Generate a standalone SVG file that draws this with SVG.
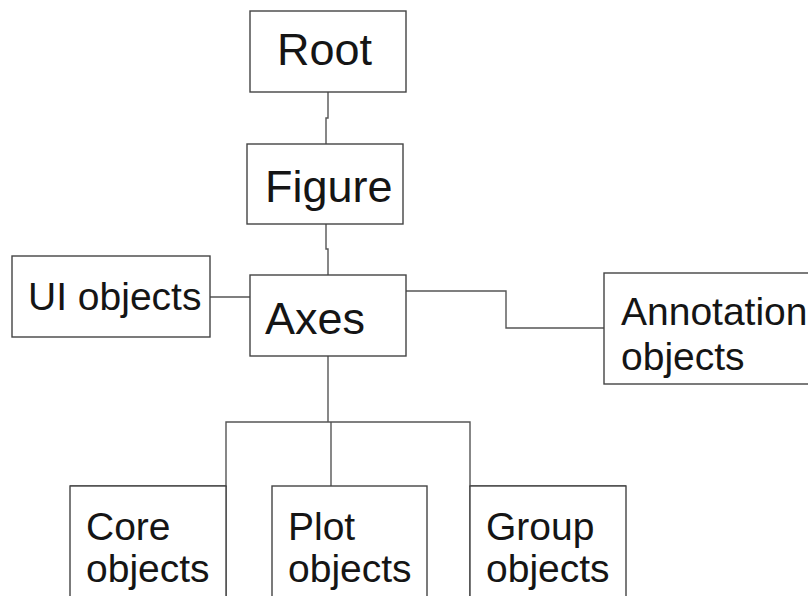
<svg xmlns="http://www.w3.org/2000/svg" width="808" height="596" viewBox="0 0 808 596">
<style>
.box{fill:#fff;stroke:#444;stroke-width:1.4}
.lbl{font-family:"Liberation Sans",Arial,sans-serif;fill:#151515}
.big{font-size:45px}
.sm{font-size:39px}
.con{fill:none;stroke:#555;stroke-width:1.4}
</style>
<rect x="0" y="0" width="808" height="596" fill="#fff"/>
<g id="connectors">
<path class="con" d="M328,92 V118 H326 V144"/>
<path class="con" d="M326,224 V249 H328 V275"/>
<path class="con" d="M210,297 H250"/>
<path class="con" d="M406,291 H506 V328 H604"/>
<path class="con" d="M328,356 V422"/>
<path class="con" d="M70,486 H226 V422 H470 V486 H626"/>
<path class="con" d="M226,486 V596"/>
<path class="con" d="M470,486 V596"/>
<path class="con" d="M331,422 V486"/>
</g>
<g id="root">
<rect class="box" x="250" y="11" width="156" height="81"/>
<text class="lbl big" x="277" y="65">Root</text>
</g>
<g id="figure">
<rect class="box" x="247" y="144" width="156" height="80"/>
<text class="lbl big" x="265" y="202">Figure</text>
</g>
<g id="ui-objects">
<rect class="box" x="12" y="256" width="198" height="81"/>
<text class="lbl sm" x="28" y="310">UI objects</text>
</g>
<g id="axes">
<rect class="box" x="250" y="275" width="156" height="81"/>
<text class="lbl big" x="265" y="334">Axes</text>
</g>
<g id="annotation-objects">
<rect class="box" x="604" y="273" width="220" height="111"/>
<text class="lbl sm" x="621" y="325">Annotation</text>
<text class="lbl sm" x="621" y="370">objects</text>
</g>
<g id="core-objects">
<rect class="box" x="70" y="486" width="156" height="130"/>
<text class="lbl sm" x="86" y="540">Core</text>
<text class="lbl sm" x="86" y="582">objects</text>
</g>
<g id="plot-objects">
<rect class="box" x="272" y="486" width="155" height="130"/>
<text class="lbl sm" x="288" y="540">Plot</text>
<text class="lbl sm" x="288" y="582">objects</text>
</g>
<g id="group-objects">
<rect class="box" x="470" y="486" width="156" height="130"/>
<text class="lbl sm" x="486" y="540">Group</text>
<text class="lbl sm" x="486" y="582">objects</text>
</g>
</svg>
